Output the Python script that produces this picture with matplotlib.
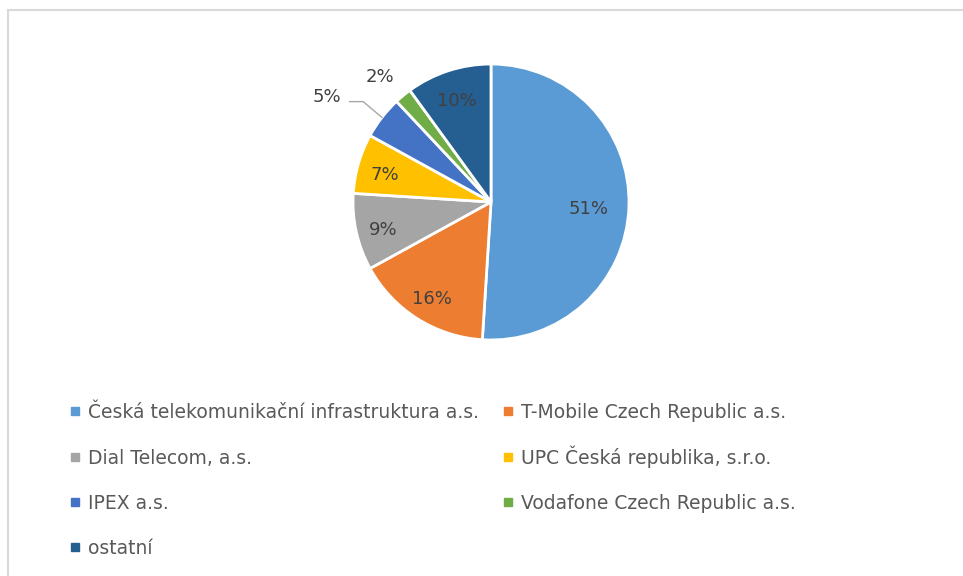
import numpy as np
import matplotlib.pyplot as plt
from matplotlib.lines import Line2D
from matplotlib.patches import Rectangle

# market share data
labels = ["Česká telekomunikační infrastruktura a.s.", "T-Mobile Czech Republic a.s.",
          "Dial Telecom, a.s.", "UPC Česká republika, s.r.o.", "IPEX a.s.",
          "Vodafone Czech Republic a.s.", "ostatní"]
shares = [51, 16, 9, 7, 5, 2, 10]
colors = ["#5B9BD5", "#ED7D31", "#A5A5A5", "#FFC000", "#4472C4", "#70AD47", "#255E91"]

plt.rcParams["font.family"] = ["DejaVu Sans"]

fig = plt.figure(figsize=(9.63, 5.76), dpi=100)
W, H = 963, 576

# light grey frame (only left and top edges are in view)
fig.patches.append(Rectangle((8 / W, -0.1), 1.2, (566 / H) + 0.1, transform=fig.transFigure,
                             fill=False, edgecolor="#D9D9D9", linewidth=1.5))

ax = fig.add_axes([353 / W, 1 - 340 / H, 276 / W, 276 / H])
wedges, _ = ax.pie(shares, colors=colors, startangle=90, counterclock=False,
                   wedgeprops=dict(edgecolor="white", linewidth=2))
ax.set_xlim(-1, 1)
ax.set_ylim(-1, 1)
ax.set_aspect("equal")

lbl = dict(fontsize=13, color="#404040", ha="center", va="center")
for w, v in zip(wedges, shares):
    ang = np.deg2rad((w.theta1 + w.theta2) / 2)
    if v >= 7:
        r = 0.71 if v > 50 else 0.8
        ax.text(r * np.cos(ang), r * np.sin(ang) - 0.03, f"{v}%", **lbl)

# outside labels for the two small slices
w5, w2 = wedges[4], wedges[5]
a5 = np.deg2rad((w5.theta1 + w5.theta2) / 2)
ax.annotate(f"{shares[4]}%", xy=(np.cos(a5), np.sin(a5)), xytext=(-1.19, 0.76), **lbl,
            arrowprops=dict(arrowstyle="-", color="#A6A6A6", lw=1, shrinkA=4, shrinkB=0,
                            relpos=(1.0, 0.25),
                            connectionstyle="angle,angleA=0,angleB=140,rad=0"))
a2 = np.deg2rad((w2.theta1 + w2.theta2) / 2)
ax.text(1.18 * np.cos(a2) - 0.05, 1.18 * np.sin(a2), f"{shares[5]}%", **lbl)

# legend laid out row by row in two columns, one entry per legend so rows stay aligned
# (anchored at the bottom so a tall Č does not push the baseline down)
col_x = [70, 503]
row_bottom = [422, 468, 513, 558]
for i, (name, c) in enumerate(zip(labels, colors)):
    h = Line2D([], [], marker="s", linestyle="none", markersize=6,
               markerfacecolor=c, markeredgecolor=c)
    fig.legend([h], [name], loc="lower left",
               bbox_to_anchor=(col_x[i % 2] / W, 1 - row_bottom[i // 2] / H),
               frameon=False, fontsize=13.5, labelcolor="#595959",
               handlelength=0.5, handletextpad=0.45, borderpad=0, borderaxespad=0)

fig.savefig("out.png", dpi=100)
